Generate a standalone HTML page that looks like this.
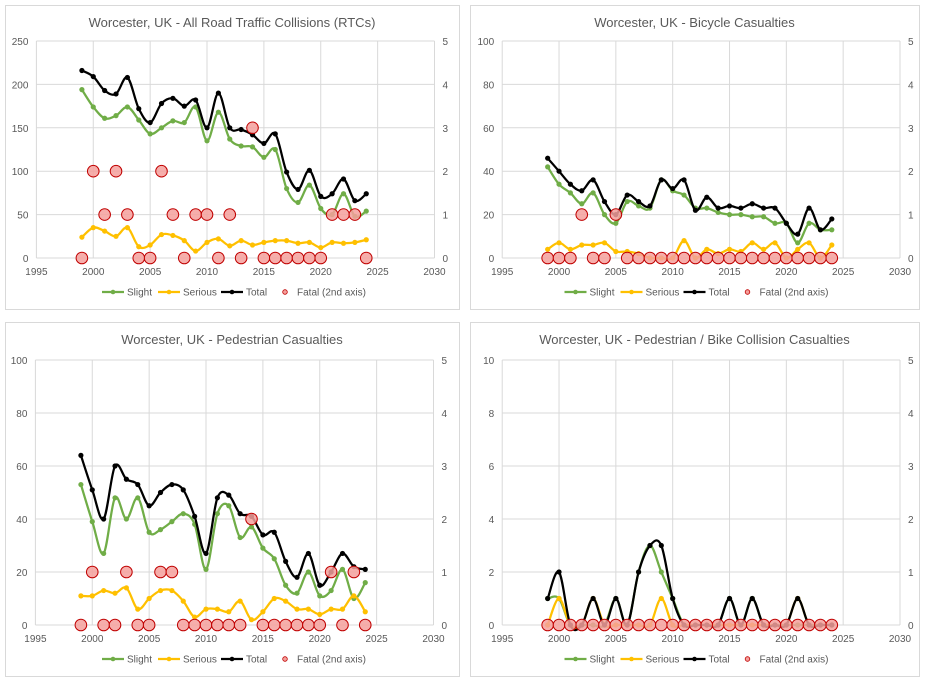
<!DOCTYPE html>
<html><head><meta charset="utf-8"><style>
html,body{margin:0;padding:0;background:#fff;}
svg{display:block;font-family:"Liberation Sans",sans-serif;}
</style></head><body>
<svg id="chart" width="929" height="681" viewBox="0 0 929 681"></svg>
<script>
const years = [1999,2000,2001,2002,2003,2004,2005,2006,2007,2008,2009,2010,2011,2012,2013,2014,2015,2016,2017,2018,2019,2020,2021,2022,2023,2024];
const xTicks = [1995,2000,2005,2010,2015,2020,2025,2030];
const rightTicks = [0,1,2,3,4,5];

const rtcTitle = "Worcester, UK - All Road Traffic Collisions (RTCs)";
const rtcLeftTicks = [0,50,100,150,200,250];
const rtcSlight = [194,174,161,164,174,159,143,150,158,156,174,135,168,137,129,128,116,125,80,64,84,57,50,74,48,54];
const rtcSerious = [24,35,31,25,35,13,15,27,26,20,8,18,22,14,20,15,18,20,20,17,18,12,18,17,18,21];
const rtcTotal = [216,209,193,189,208,172,156,178,184,175,182,150,190,150,148,142,132,143,99,79,101,71,74,91,66,74];
const rtcFatal = [0,2,1,2,1,0,0,2,1,0,1,1,0,1,0,3,0,0,0,0,0,0,1,1,1,0];

const bikeTitle = "Worcester, UK - Bicycle Casualties";
const bikeLeftTicks = [0,20,40,60,80,100];
const bikeSlight = [42,34,30,25,30,20,16,26,24,23,36,31,29,23,23,21,20,20,19,19,16,16,7,16,13,13];
const bikeSerious = [4,7,4,6,6,7,3,3,2,0,0,0,8,0,4,2,4,3,7,4,7,0,4,7,0,6];
const bikeTotal = [46,40,34,31,36,26,20,29,26,24,36,32,36,22,28,23,24,23,25,23,23,16,11,23,13,18];
const bikeFatal = [0,0,0,1,0,0,1,0,0,0,0,0,0,0,0,0,0,0,0,0,0,0,0,0,0,0];

const pedTitle = "Worcester, UK - Pedestrian Casualties";
const pedLeftTicks = [0,20,40,60,80,100];
const pedSlight = [53,39,27,48,40,48,35,36,39,42,38,21,42,45,33,37,29,25,15,12,20,11,13,21,10,16];
const pedSerious = [11,11,13,12,14,6,10,13,13,9,3,6,6,5,9,2,5,10,9,6,6,4,6,6,11,5];
const pedTotal = [64,51,40,60,55,53,45,50,53,51,41,27,48,49,42,41,34,35,24,18,27,15,20,27,22,21];
const pedFatal = [0,1,0,0,1,0,0,1,1,0,0,0,0,0,0,2,0,0,0,0,0,0,1,0,1,0];

const pbTitle = "Worcester, UK - Pedestrian / Bike Collision Casualties";
const pbLeftTicks = [0,2,4,6,8,10];
const pbSlight = [1,1,0,0,0,0,1,0,2,3,2,1,0,0,0,0,1,0,1,0,0,0,0,0,0,0];
const pbSerious = [0,1,0,0,1,0,0,0,0,0,1,0,0,0,0,0,0,0,0,0,0,0,1,0,0,0];
const pbTotal = [1,2,0,0,1,0,1,0,2,3,3,1,0,0,0,0,1,0,1,0,0,0,1,0,0,0];
const pbFatal = [0,0,0,0,0,0,0,0,0,0,0,0,0,0,0,0,0,0,0,0,0,0,0,0,0,0];

const NS = "http://www.w3.org/2000/svg";
const svg = document.getElementById('chart');
function mk(tag, attrs, parent){const e=document.createElementNS(NS,tag);for(const k in attrs)e.setAttribute(k,attrs[k]);(parent||svg).appendChild(e);return e;}

function smoothPath(pts){
  let d = "M"+pts[0][0].toFixed(1)+","+pts[0][1].toFixed(1);
  for(let i=0;i<pts.length-1;i++){
    const p0=pts[Math.max(0,i-1)],p1=pts[i],p2=pts[i+1],p3=pts[Math.min(pts.length-1,i+2)];
    const c1x=p1[0]+(p2[0]-p0[0])/6,c1y=p1[1]+(p2[1]-p0[1])/6;
    const c2x=p2[0]-(p3[0]-p1[0])/6,c2y=p2[1]-(p3[1]-p1[1])/6;
    d+=" C"+c1x.toFixed(1)+","+c1y.toFixed(1)+" "+c2x.toFixed(1)+","+c2y.toFixed(1)+" "+p2[0].toFixed(1)+","+p2[1].toFixed(1);
  }
  return d;
}

function panel(cfg){
  const g = mk('g',{});
  
  
  const box = mk('rect',{x:cfg.bx+0.5,y:cfg.by+0.5,width:cfg.bw,height:cfg.bh,fill:'#fff',stroke:'#d9d9d9'},g);
  
  
  const t = mk('text',{x:cfg.bx+cfg.bw/2,y:cfg.by+22,'text-anchor':'middle','font-size':'13','fill':'#595959'},g);
  t.textContent = cfg.title;
  
  
  const xs = v => cfg.x0 + (v-1995)/(2030-1995)*(cfg.x1-cfg.x0);
  const lmax = cfg.leftTicks[cfg.leftTicks.length-1];
  const ys = v => cfg.y0 - v/lmax*(cfg.y0-cfg.y1);
  const ys2 = v => cfg.y0 - v/5*(cfg.y0-cfg.y1);
  cfg.leftTicks.forEach(v=>{
    const gl = mk('line',{x1:cfg.x0,x2:cfg.x1,y1:ys(v),y2:ys(v),stroke:'#d9d9d9','stroke-width':1},g);
    
    
    const tl = mk('text',{x:cfg.x0-8,y:ys(v)+4,'text-anchor':'end','font-size':'10','fill':'#595959'},g);
    tl.textContent = v;
    
    
  });
  xTicks.forEach(v=>{
    const gl = mk('line',{x1:xs(v),x2:xs(v),y1:cfg.y1,y2:cfg.y0,stroke:'#d9d9d9','stroke-width':1},g);
    
    
    const tl = mk('text',{x:xs(v),y:cfg.y0+17,'text-anchor':'middle','font-size':'10','fill':'#595959'},g);
    tl.textContent = v;
    
    
  });
  rightTicks.forEach(v=>{
    const tl = mk('text',{x:cfg.x1+8,y:ys2(v)+4,'text-anchor':'start','font-size':'10','fill':'#595959'},g);
    tl.textContent = v;
    
    
  });
  const series = [['slight',cfg.slight,'#70ad47'],['serious',cfg.serious,'#ffc000'],['total',cfg.total,'#000000']];
  series.forEach(([nm,vals,col])=>{
    const pts = years.map((y,i)=>[xs(y),ys(vals[i])]);
    const p = mk('path',{d:smoothPath(pts),fill:'none',stroke:col,'stroke-width':2.25},g);
    
    
    pts.forEach(pt=>{
      const c = mk('circle',{cx:pt[0],cy:pt[1],r:2.6,fill:col},g);
      
      
    });
  });
  years.forEach((y,i)=>{
    const c = mk('circle',{cx:xs(y),cy:ys2(cfg.fatal[i]),r:5.8,fill:'#f4a09c','fill-opacity':0.85,stroke:'#c00000','stroke-width':1},g);
    
    
  });
  // legend
  const ly = cfg.by+cfg.bh-17;
  const lx = cfg.bx+cfg.bw/2-130;
  const items = [['Slight','#70ad47',0],['Serious','#ffc000',56],['Total','#000',119]];
  items.forEach(([lab,col,off])=>{
    const lg = mk('g',{},g);
    
    
    mk('line',{x1:lx+off,x2:lx+off+22,y1:ly,y2:ly,stroke:col,'stroke-width':2.25},lg);
    mk('circle',{cx:lx+off+11,cy:ly,r:2.3,fill:col},lg);
    const tx = mk('text',{x:lx+off+25,y:ly+3.5,'font-size':'10','fill':'#595959'},lg);
    tx.textContent = lab;
  });
  const fg = mk('g',{},g);
  
  
  mk('circle',{cx:lx+183,cy:ly,r:2.3,fill:'#f4a09c',stroke:'#c00000','stroke-width':0.8},fg);
  const ft = mk('text',{x:lx+195,y:ly+3.5,'font-size':'10','fill':'#595959'},fg);
  ft.textContent = 'Fatal (2nd axis)';
}

panel({name:'rtc-chart',title:rtcTitle,bx:5,by:5,bw:454,bh:304,x0:36.4,x1:434.5,y0:258,y1:41,leftTicks:rtcLeftTicks,slight:rtcSlight,serious:rtcSerious,total:rtcTotal,fatal:rtcFatal});
panel({name:'bicycle-chart',title:bikeTitle,bx:470,by:5,bw:449,bh:304,x0:502.2,x1:900,y0:258,y1:41,leftTicks:bikeLeftTicks,slight:bikeSlight,serious:bikeSerious,total:bikeTotal,fatal:bikeFatal});
panel({name:'pedestrian-chart',title:pedTitle,bx:5,by:322,bw:454,bh:354,x0:35.4,x1:433.5,y0:625,y1:360,leftTicks:pedLeftTicks,slight:pedSlight,serious:pedSerious,total:pedTotal,fatal:pedFatal});
panel({name:'ped-bike-chart',title:pbTitle,bx:470,by:322,bw:449,bh:354,x0:502.2,x1:900,y0:625,y1:360,leftTicks:pbLeftTicks,slight:pbSlight,serious:pbSerious,total:pbTotal,fatal:pbFatal});
</script>
</body></html>
